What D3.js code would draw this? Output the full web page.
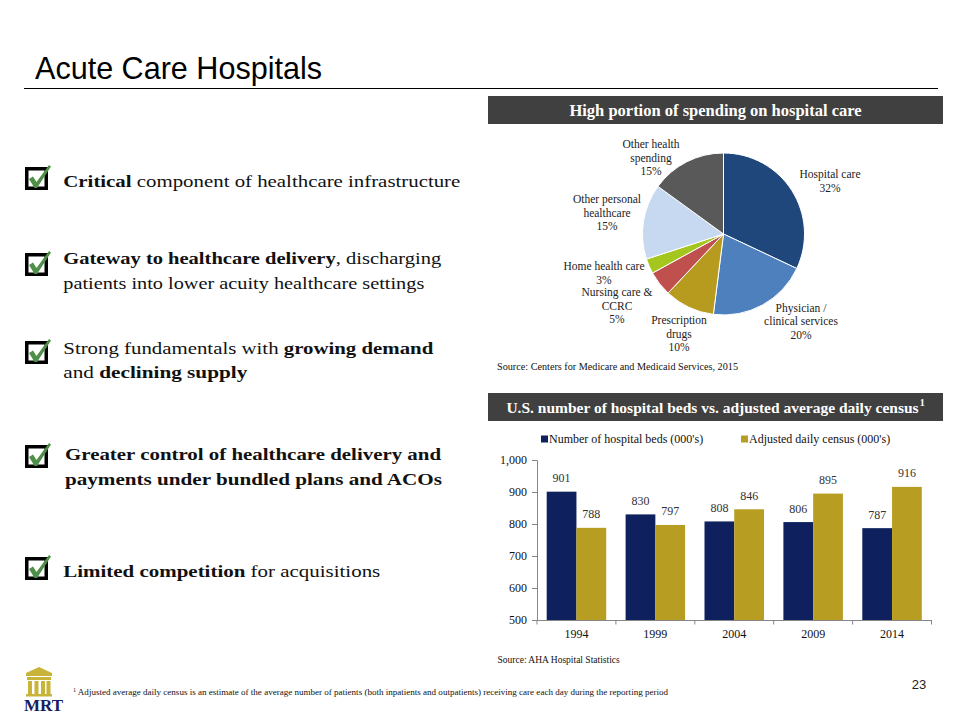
<!DOCTYPE html>
<html><head><meta charset="utf-8">
<script src="https://cdn.jsdelivr.net/npm/d3@7"></script>
<style>body{margin:0;background:#fff}svg{display:block}</style>
</head><body><svg id="c" width="960" height="720"></svg>
<script>
// ---------- DATA ----------
const pieCategories = ["Hospital care","Physician / clinical services","Prescription drugs","Nursing care & CCRC","Home health care","Other personal healthcare","Other health spending"];
const pieValues = [32,20,10,5,3,15,15];
const pieLabelLines = [["Hospital care"],["Physician /","clinical services"],["Prescription","drugs"],["Nursing care &","CCRC"],["Home health care"],["Other personal","healthcare"],["Other health","spending"]];

const years = ["1994","1999","2004","2009","2014"];
const beds = [901,830,808,806,787];
const census = [788,797,846,895,916];
const seriesNames = ["Number of hospital beds (000's)","Adjusted daily census (000's)"];
const yTicks = [500,600,700,800,900,1000];

const bullets = [
  [[["Critical",1],[" component of healthcare infrastructure",0]]],
  [[["Gateway to healthcare delivery",1],[", discharging",0]],[["patients into lower acuity healthcare settings",0]]],
  [[["Strong fundamentals with ",0],["growing demand",1]],[["and ",0],["declining supply",1]]],
  [[["Greater control of healthcare delivery and",1]],[["payments under bundled plans and ACOs",1]]],
  [[["Limited competition",1],[" for acquisitions",0]]]
];

// ---------- STYLE / LAYOUT ----------
const pieColors = ["#1F477B","#4E80BD","#B69B1E","#C0504D","#A4C61E","#C6D9F1","#595959"];
const pieLabelPos = [[830,178],[801,311.5],[679,324],[617,296],[604,270],[607,203],[651,148]];
const barColors = ["#0E215E","#B79D22"];
const serif = "'Liberation Serif','Times New Roman',serif";
const sans = "'Liberation Sans',Arial,sans-serif";
const bulletLayout = [
  {box:167, lines:[[181.7,397]]},
  {box:253, lines:[[258.3,378],[283.3,361]]},
  {box:341, lines:[[348.3,370],[372.7,184]]},
  {box:445, lines:[[454,376],[479.3,377]]},
  {box:557, lines:[[571.7,317]]}
];

const svg = d3.select("#c");

// ---------- Title ----------
svg.append("text").attr("x",35).attr("y",78.5).attr("font-family",sans).attr("font-size",30.5)
  .attr("fill","#000").attr("textLength",287).attr("lengthAdjust","spacingAndGlyphs").text("Acute Care Hospitals");
svg.append("line").attr("x1",24).attr("x2",938).attr("y1",88.5).attr("y2",88.5).attr("stroke","#000").attr("stroke-width",1);

// ---------- Bullets ----------
bullets.forEach((b,i)=>{
  const L = bulletLayout[i];
  const bx = 25, by = L.box, s = 23;
  svg.append("rect").attr("x",bx+1.75).attr("y",by+1.75).attr("width",s-3.5).attr("height",s-3.5)
    .attr("fill","#fff").attr("stroke","#000").attr("stroke-width",3.5);
  svg.append("path").attr("d",`M${bx+4},${by+12} L${bx+8},${by+9.5} L${bx+11.5},${by+15} L${bx+24},${by-2} L${bx+26},${by-0.5} L${bx+12},${by+21} L${bx+9.5},${by+21} Z`)
    .attr("fill","#4F9048");
  b.forEach((line,j)=>{
    const [cy,w] = L.lines[j];
    const t = svg.append("text").attr("x", i===3?65:63.3).attr("y",cy+5.5)
      .attr("font-family",serif).attr("font-size",17.5).attr("fill","#111")
      .attr("textLength",w).attr("lengthAdjust","spacingAndGlyphs");
    line.forEach(seg=>{
      t.append("tspan").attr("font-weight",seg[1]?"bold":"normal").text(seg[0]);
    });
  });
});

// ---------- Header bars ----------
function headerBar(y, txt, fs, sup){
  svg.append("rect").attr("x",488).attr("y",y).attr("width",455).attr("height",28).attr("fill","#404040");
  const t = svg.append("text").attr("x",715.5).attr("y",y+19.5).attr("text-anchor","middle")
    .attr("font-family",serif).attr("font-size",fs).attr("font-weight","bold").attr("fill","#fff");
  t.append("tspan").text(txt);
  if(sup){
    t.append("tspan").attr("font-size",10).attr("dy",-6.5).attr("dx",1).text(sup);
  }
}
headerBar(96,"High portion of spending on hospital care",16.5);
headerBar(393,"U.S. number of hospital beds vs. adjusted average daily census",15.5,"1");

// ---------- Pie ----------
const pcx = 723.5, pcy = 234, pr = 81;
const pie = d3.pie().sort(null).value(d=>d)(pieValues);
const arc = d3.arc().innerRadius(0).outerRadius(pr);
const pg = svg.append("g").attr("transform",`translate(${pcx},${pcy})`);
pg.selectAll("path").data(pie).join("path").attr("d",arc)
  .attr("fill",(d,i)=>pieColors[i]).attr("stroke","#fff").attr("stroke-width",1);

pieLabelLines.forEach((lines,i)=>{
  const [x,y] = pieLabelPos[i];
  const t = svg.append("text").attr("x",x).attr("y",y).attr("text-anchor","middle")
    .attr("font-family",serif).attr("font-size",11.5).attr("fill","#222");
  lines.concat([pieValues[i]+"%"]).forEach((ln,k)=>{
    t.append("tspan").attr("x",x).attr("dy",k===0?0:13.5).text(ln);
  });
});
svg.append("text").attr("x",497).attr("y",369.5).attr("font-family",serif).attr("font-size",9.5)
  .attr("fill","#111").attr("textLength",241).attr("lengthAdjust","spacingAndGlyphs")
  .text("Source: Centers for Medicare and Medicaid Services, 2015");

// ---------- Bar chart ----------
const x0 = d3.scaleBand().domain(years).range([537,931.5]).padding(0);
const x1 = d3.scaleBand().domain([0,1]).range([9.7,x0.bandwidth()-9.7]).padding(0);
const y = d3.scaleLinear().domain([500,1000]).range([620,460]);
const series = [beds, census];

const bg = svg.append("g");
years.forEach((yr,i)=>{
  series.forEach((s,k)=>{
    bg.append("rect").attr("x",x0(yr)+x1(k)).attr("y",y(s[i])).attr("width",x1.bandwidth())
      .attr("height",y(500)-y(s[i])).attr("fill",barColors[k]);
    bg.append("text").attr("x",x0(yr)+x1(k)+x1.bandwidth()/2).attr("y",y(s[i])-9.5)
      .attr("text-anchor","middle").attr("font-family",serif).attr("font-size",12).attr("fill","#333")
      .text(s[i]);
  });
});

const yAxis = svg.append("g").attr("transform","translate(537,0)")
  .call(d3.axisLeft(y).tickValues(yTicks).tickFormat(d3.format(",")).tickSize(5).tickPadding(5));
yAxis.select(".domain").attr("stroke","#868686");
yAxis.selectAll(".tick line").attr("stroke","#868686");
yAxis.selectAll("text").attr("font-family",serif).attr("font-size",12).attr("fill","#111");

const xAxis = svg.append("g").attr("transform","translate(0,620)")
  .call(d3.axisBottom(x0).tickSize(0).tickPadding(9.5));
xAxis.select(".domain").attr("stroke","#868686");
xAxis.selectAll("text").attr("font-family",serif).attr("font-size",12).attr("fill","#111");
xAxis.selectAll(".bound").data(years.map(d=>x0(d)).concat([x0.range()[1]])).join("line")
  .attr("class","bound").attr("x1",d=>d).attr("x2",d=>d).attr("y1",0).attr("y2",4.5).attr("stroke","#868686");

// legend
const legX = [541,741];
seriesNames.forEach((n,k)=>{
  svg.append("rect").attr("x",legX[k]).attr("y",435.5).attr("width",7).attr("height",7).attr("fill",barColors[k]);
  svg.append("text").attr("x",legX[k]+8).attr("y",443).attr("font-family",serif).attr("font-size",12)
    .attr("fill","#111").text(n);
});

svg.append("text").attr("x",497.5).attr("y",663).attr("font-family",serif).attr("font-size",9.5)
  .attr("fill","#111").text("Source: AHA Hospital Statistics");

// footnote
const fn = svg.append("text").attr("x",73).attr("y",694.5).attr("font-family",serif).attr("font-size",8)
  .attr("fill","#111").attr("textLength",595).attr("lengthAdjust","spacingAndGlyphs");
fn.append("tspan").attr("font-size",5.5).attr("dy",-2.5).text("1");
fn.append("tspan").attr("dy",2.5).text(" Adjusted average daily census is an estimate of the average number of patients (both inpatients and outpatients) receiving care each day during the reporting period");

// page number
svg.append("text").attr("x",919).attr("y",689).attr("text-anchor","middle").attr("font-family",sans)
  .attr("font-size",13).attr("fill","#222").text("23");

// logo
const lg = svg.append("g").attr("fill","#C9B43A");
lg.append("path").attr("d","M26,673 L39,667 L52,673 L52,676 L26,676 Z");
lg.append("rect").attr("x",27).attr("y",677).attr("width",24).attr("height",3);
[28,34.5,41,46.5].forEach(cx=>lg.append("rect").attr("x",cx).attr("y",681).attr("width",4).attr("height",13));
lg.append("rect").attr("x",26).attr("y",694).attr("width",26).attr("height",2.5);
svg.append("text").attr("x",24).attr("y",710.5).attr("font-family",serif).attr("font-weight","bold")
  .attr("font-size",17).attr("fill","#14205E").attr("textLength",39).attr("lengthAdjust","spacingAndGlyphs").text("MRT");
</script></body></html>
